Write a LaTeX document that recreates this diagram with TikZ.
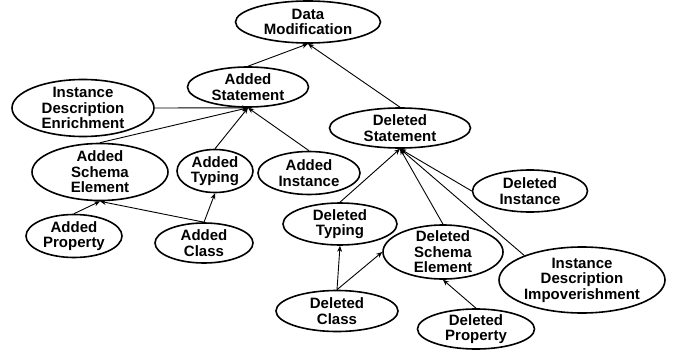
\documentclass[tikz,border=0pt]{standalone}
\usepackage{fontspec}
\setmainfont{Liberation Sans}
\usetikzlibrary{shapes.geometric,arrows.meta}
\begin{document}
\begin{tikzpicture}[x=1pt,y=-1pt,
    every node/.style={ellipse,draw,line width=1.6pt,align=center,inner sep=-4pt,
      font=\bfseries\fontsize{15}{15.5}\selectfont}]
  \useasboundingbox (0,0) rectangle (688,353);
  \draw
    (308,22) node[minimum width=145pt,minimum height=42pt] (dm){Data\\Modification}
    (248,87) node[minimum width=121pt,minimum height=40pt] (as){Added\\Statement}
    (83,108) node[minimum width=142pt,minimum height=57pt] (ide){Instance\\Description\\Enrichment}
    (100,172) node[minimum width=136pt,minimum height=57pt] (ase){Added\\Schema\\Element}
    (215,171) node[minimum width=76pt,minimum height=43pt] (at){Added\\Typing}
    (309,173) node[minimum width=102pt,minimum height=43pt] (ai){Added\\Instance}
    (74,236) node[minimum width=96pt,minimum height=43pt] (ap){Added\\Property}
    (204,243) node[minimum width=98pt,minimum height=40pt] (ac){Added\\Class}
    (400,128) node[minimum width=141pt,minimum height=40pt] (ds){Deleted\\Statement}
    (530,191) node[minimum width=115pt,minimum height=42pt] (di){Deleted\\Instance}
    (340,224) node[minimum width=114pt,minimum height=42pt] (dt){Deleted\\Typing}
    (443,252) node[minimum width=120pt,minimum height=54pt] (dse){Deleted\\Schema\\Element}
    (582,280) node[minimum width=166pt,minimum height=66pt] (idi){Instance\\Description\\Impoverishment}
    (337,311) node[minimum width=122pt,minimum height=41pt] (dc){Deleted\\Class}
    (476,329) node[minimum width=117pt,minimum height=40pt] (dp){Deleted\\Property};
  \begin{scope}[-{Stealth[length=6pt,width=5pt]},line width=0.9pt]
    \draw (as.north) to (dm.south);
    \draw (ds.north) to (dm.south);
    \draw (ide.east) to (as.south);
    \draw (ase.north) to (as.south);
    \draw (at.north) to (as.south);
    \draw (ai.north) to (as.south);
    \draw (ap.north) to (ase.south);
    \draw (ac.north) to (ase.south);
    \draw (ac.north) to (at.south);
    \draw (dt.north) to (ds.south);
    \draw (dse.north) to (ds.south);
    \draw (di.west) to (ds.south);
    \draw (idi.157) to (ds.south);
    \draw (dc.north) to (dt.south);
    \draw (dc.north) to (dse.west);
    \draw (dp.north) to (dse.south);
  \end{scope}
\end{tikzpicture}
\end{document}
